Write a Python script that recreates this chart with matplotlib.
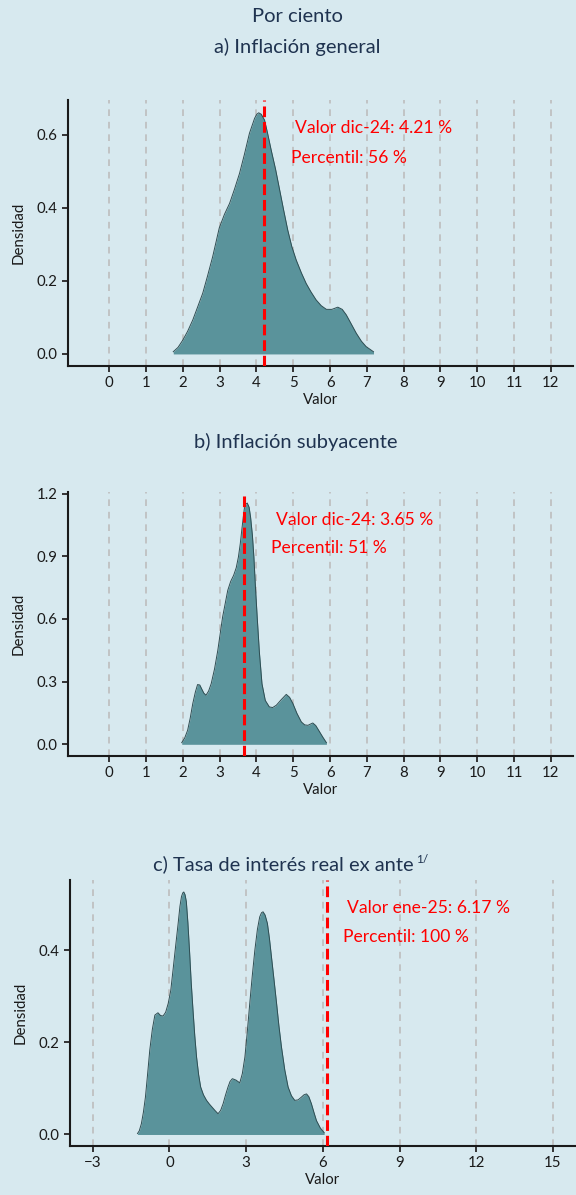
import numpy as np
import matplotlib
matplotlib.use("Agg")
import matplotlib.pyplot as plt
from matplotlib.ticker import FormatStrFormatter

plt.rcParams['font.family'] = ['Lato', 'DejaVu Sans']

# densidad inflación general
gen_x = [1.74, 1.87, 2.00, 2.13, 2.27, 2.40, 2.54, 2.67, 2.81, 2.99, 3.13, 3.27, 3.40, 3.54,
         3.67, 3.81, 3.95, 4.01, 4.06, 4.13, 4.22, 4.30, 4.40, 4.52, 4.63, 4.74, 4.85, 4.96,
         5.08, 5.22, 5.35, 5.48, 5.62, 5.76, 5.90, 6.05, 6.21, 6.33, 6.44, 6.57, 6.71, 6.85,
         6.98, 7.18]
gen_y = [0.006, 0.018, 0.038, 0.062, 0.093, 0.128, 0.166, 0.213, 0.266, 0.345, 0.382, 0.412,
         0.450, 0.494, 0.545, 0.604, 0.645, 0.656, 0.660, 0.656, 0.640, 0.605, 0.558, 0.505,
         0.449, 0.393, 0.339, 0.294, 0.257, 0.222, 0.193, 0.170, 0.148, 0.132, 0.122, 0.122,
         0.128, 0.122, 0.107, 0.083, 0.057, 0.035, 0.020, 0.006]

# densidad inflación subyacente
sub_x = [1.97, 2.05, 2.13, 2.20, 2.27, 2.34, 2.40, 2.46, 2.51, 2.57, 2.63, 2.70, 2.77, 2.86,
         2.95, 3.08, 3.22, 3.30, 3.38, 3.45, 3.51, 3.56, 3.60, 3.64, 3.67, 3.71, 3.75, 3.80,
         3.84, 3.89, 3.93, 3.97, 4.02, 4.08, 4.15, 4.24, 4.35, 4.44, 4.54, 4.68, 4.81, 4.90,
         4.99, 5.10, 5.22, 5.31, 5.40, 5.47, 5.53, 5.61, 5.69, 5.80, 5.90]
sub_y = [0.008, 0.030, 0.067, 0.125, 0.195, 0.250, 0.286, 0.284, 0.266, 0.245, 0.235, 0.255,
         0.290, 0.360, 0.450, 0.609, 0.737, 0.780, 0.809, 0.845, 0.897, 0.960, 1.024, 1.085,
         1.128, 1.150, 1.155, 1.135, 1.088, 1.000, 0.897, 0.760, 0.609, 0.440, 0.290, 0.210,
         0.179, 0.176, 0.187, 0.215, 0.239, 0.225, 0.195, 0.148, 0.107, 0.093, 0.091, 0.097,
         0.102, 0.090, 0.067, 0.035, 0.008]

# densidad tasa de interés real ex ante
real_x = [-1.25, -1.18, -1.10, -1.02, -0.94, -0.86, -0.77, -0.67, -0.57, -0.45, -0.35, -0.25,
          -0.15, -0.05, 0.05, 0.14, 0.24, 0.34, 0.41, 0.47, 0.52, 0.56, 0.61, 0.66, 0.72,
          0.79, 0.85, 0.92, 0.99, 1.06, 1.14, 1.22, 1.33, 1.45, 1.56, 1.67, 1.78, 1.90, 2.00,
          2.10, 2.19, 2.29, 2.37, 2.46, 2.60, 2.75, 2.85, 2.95, 3.04, 3.14, 3.24, 3.34, 3.44,
          3.53, 3.60, 3.66, 3.74, 3.83, 3.91, 3.99, 4.09, 4.19, 4.28, 4.38, 4.51, 4.64, 4.77,
          4.90, 5.03, 5.16, 5.26, 5.36, 5.45, 5.55, 5.65, 5.75, 5.90, 6.05]
real_y = [0.002, 0.008, 0.023, 0.048, 0.081, 0.128, 0.183, 0.228, 0.259, 0.264, 0.258, 0.257,
          0.265, 0.284, 0.312, 0.357, 0.408, 0.458, 0.495, 0.516, 0.524, 0.526, 0.520, 0.505,
          0.460, 0.393, 0.330, 0.270, 0.214, 0.168, 0.130, 0.103, 0.086, 0.074, 0.066, 0.059,
          0.052, 0.045, 0.052, 0.067, 0.085, 0.103, 0.115, 0.121, 0.118, 0.112, 0.132, 0.168,
          0.220, 0.284, 0.345, 0.400, 0.445, 0.472, 0.481, 0.483, 0.476, 0.458, 0.425, 0.385,
          0.335, 0.284, 0.236, 0.190, 0.140, 0.103, 0.084, 0.074, 0.075, 0.081, 0.086, 0.088,
          0.082, 0.067, 0.048, 0.030, 0.014, 0.004]

titulos = ["a) Inflación general", "b) Inflación subyacente", "c) Tasa de interés real ex ante"]
valores = [4.21, 3.65, 6.17]
etiquetas = ["Valor dic-24: 4.21 %", "Valor dic-24: 3.65 %", "Valor ene-25: 6.17 %"]
percentiles = ["Percentil: 56 %", "Percentil: 51 %", "Percentil: 100 %"]
xticks_ab = list(range(0, 13))
xticks_c = [-3, 0, 3, 6, 9, 12, 15]

bg = '#d7e9ef'
fill = '#5a939b'
edge = '#2e4d52'
navy = '#1f3350'

fig = plt.figure(figsize=(5.76, 11.95), dpi=100, facecolor=bg)
H = 1195.0
W = 576.0

def axes_px(l, r, t, b):
    return fig.add_axes([l / W, 1 - b / H, (r - l) / W, (b - t) / H])

ax_a = axes_px(68, 573, 100, 366)
ax_b = axes_px(68, 573, 492, 756)
ax_c = axes_px(70, 576, 880, 1146)

datos = [(ax_a, gen_x, gen_y, xticks_ab, (-1.12, 12.6), (-0.033, 0.695), [0, 0.2, 0.4, 0.6],
          (5.06, 0.618), (4.94, 0.537)),
         (ax_b, sub_x, sub_y, xticks_ab, (-1.12, 12.6), (-0.056, 1.208), [0, 0.3, 0.6, 0.9, 1.2],
          (4.52, 1.076), (4.39, 0.940)),
         (ax_c, real_x, real_y, xticks_c, (-3.89, 15.9), (-0.025, 0.552), [0, 0.2, 0.4],
          (6.94, 0.492), (6.79, 0.428))]

for i, (ax, xs, ys, xt, xl, yl, yt, p1, p2) in enumerate(datos):
    ax.set_facecolor(bg)
    ax.fill_between(xs, 0, ys, color=fill, lw=0, zorder=2)
    ax.plot(xs, ys, color=edge, lw=0.7, zorder=3)
    ax.axvline(valores[i], color='#ff0000', lw=2.2, dashes=(3.5, 1.6), zorder=4)
    ax.text(p1[0], p1[1], etiquetas[i], color='#ff0000', fontsize=12.6, ha='left', va='center')
    ax.text(p2[0], p2[1], percentiles[i], color='#ff0000', fontsize=12.6, ha='left', va='center')
    ax.set_xticks(xt)
    ax.set_yticks(yt)
    ax.yaxis.set_major_formatter(FormatStrFormatter('%.1f'))
    ax.set_xlim(xl)
    ax.set_ylim(yl)
    ax.grid(axis='x', color='#bdbdbd', lw=1.2, dashes=(4, 3.5), zorder=1)
    ax.grid(axis='y', visible=False)
    ax.set_axisbelow(True)
    for s in ['top', 'right']:
        ax.spines[s].set_visible(False)
    for s in ['left', 'bottom']:
        ax.spines[s].set_linewidth(1.5)
        ax.spines[s].set_color('#1a1a1a')
    ax.tick_params(length=4.5, width=1.4, color='#333333', labelsize=10.8,
                   labelcolor='#1a1a1a', pad=3)
    ax.set_xlabel("Valor", fontsize=10.8, color='#1a1a1a', labelpad=2)
    ax.set_ylabel("Densidad", fontsize=10.8, color='#1a1a1a', labelpad=8)

fig.text(297 / W, 1 - 17 / H, "Por ciento", ha='center', va='center', fontsize=14.5, color=navy)
fig.text(297 / W, 1 - 47 / H, titulos[0], ha='center', va='center', fontsize=14.5, color=navy)
fig.text(296 / W, 1 - 442 / H, titulos[1], ha='center', va='center', fontsize=14.5, color=navy)
tc = fig.text(283 / W, 1 - 864 / H, titulos[2], ha='center', va='center', fontsize=14.5, color=navy)
ax_c.annotate("1/", xy=(1, 1), xycoords=tc, xytext=(2, 1), textcoords='offset points',
              ha='left', va='top', fontsize=8.5, color=navy, annotation_clip=False)

fig.savefig("out.png", dpi=100, facecolor=bg)
